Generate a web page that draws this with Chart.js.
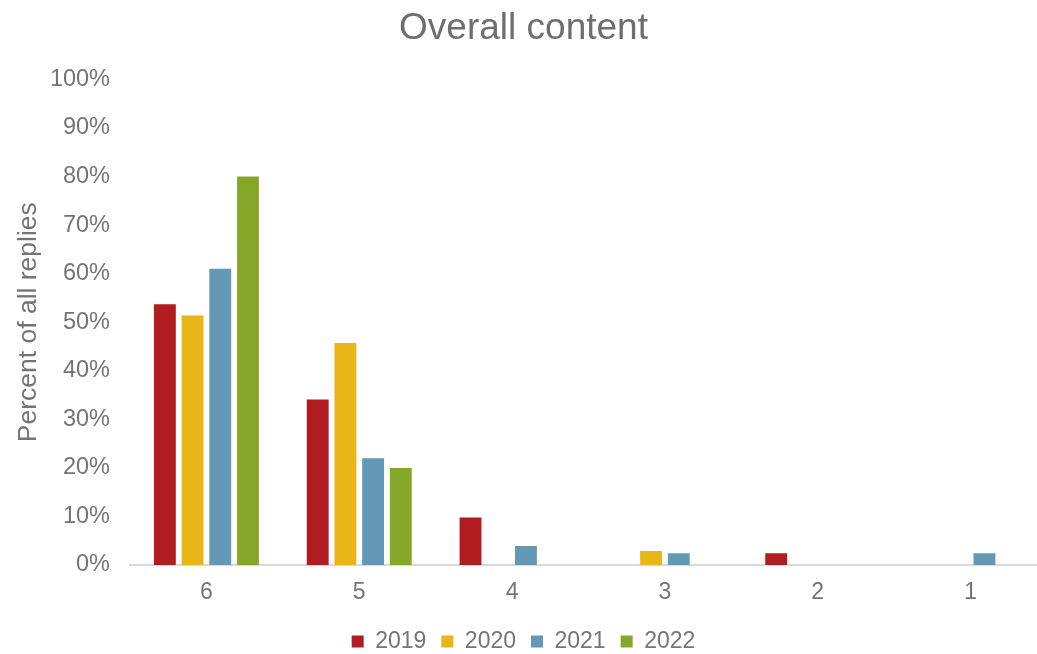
<!DOCTYPE html>
<html>
<head>
<meta charset="utf-8">
<script src="https://cdn.jsdelivr.net/npm/chart.js@4"></script>
<style>
  html, body { margin: 0; padding: 0; background: #fff; overflow: hidden; }
  #wrap { width: 1052px; height: 665px; }
</style>
</head>
<body>
<div id="wrap"><canvas id="chart"></canvas></div>
<script>
const categories = ['6', '5', '4', '3', '2', '1'];
const years = ['2019', '2020', '2021', '2022'];
const values2019 = [53.7, 34.1, 9.8, 0, 2.4, 0];
const values2020 = [51.4, 45.7, 0, 2.9, 0, 0];
const values2021 = [61.0, 22.0, 3.9, 2.4, 0, 2.4];
const values2022 = [80.0, 20.0, 0, 0, 0, 0];
const yTicks = [0, 10, 20, 30, 40, 50, 60, 70, 80, 90, 100];

const colors = ['#b01c1f', '#eab516', '#6399b5', '#86a82a'];
const textGray = '#747474';
const font = 'Liberation Sans, Arial, sans-serif';

const series = [values2019, values2020, values2021, values2022];

new Chart(document.getElementById('chart'), {
    type: 'bar',
    data: {
        labels: categories,
        datasets: series.map((vals, i) => ({
            label: years[i],
            data: vals,
            backgroundColor: colors[i],
            categoryPercentage: 0.725,
            barPercentage: 0.79
        }))
    },
    options: {
        responsive: true,
        maintainAspectRatio: false,
        animation: false,
        layout: { padding: { left: 0, right: 5, top: 0, bottom: 2 } },
        plugins: {
            title: {
                display: true,
                text: 'Overall content',
                color: '#6e6e6e',
                font: { family: font, size: 37, weight: 'normal' },
                padding: { top: 7, bottom: 28 }
            },
            legend: {
                position: 'bottom',
                labels: {
                    color: textGray,
                    font: { family: font, size: 23 },
                    boxWidth: 12,
                    boxHeight: 12,
                    padding: 15
                }
            },
            tooltip: { enabled: false }
        },
        scales: {
            x: {
                grid: { display: false, drawTicks: false },
                border: { color: '#d9d9d9', width: 2 },
                ticks: { color: textGray, font: { family: font, size: 23 }, padding: 14 },
                afterFit: s => { s.height = 50; }
            },
            y: {
                min: 0,
                max: 100,
                afterBuildTicks: s => { s.ticks = yTicks.map(v => ({ value: v })); },
                grid: { display: false, drawTicks: false },
                border: { display: false },
                ticks: {
                    color: textGray,
                    font: { family: font, size: 23.5 },
                    padding: 20,
                    callback: v => v + '%'
                },
                title: {
                    display: true,
                    text: 'Percent of all replies',
                    color: textGray,
                    font: { family: font, size: 26.5 },
                    padding: { top: 13, bottom: 0 }
                },
                afterFit: s => { s.width = 130; }
            }
        }
    }
});
</script>
</body>
</html>
